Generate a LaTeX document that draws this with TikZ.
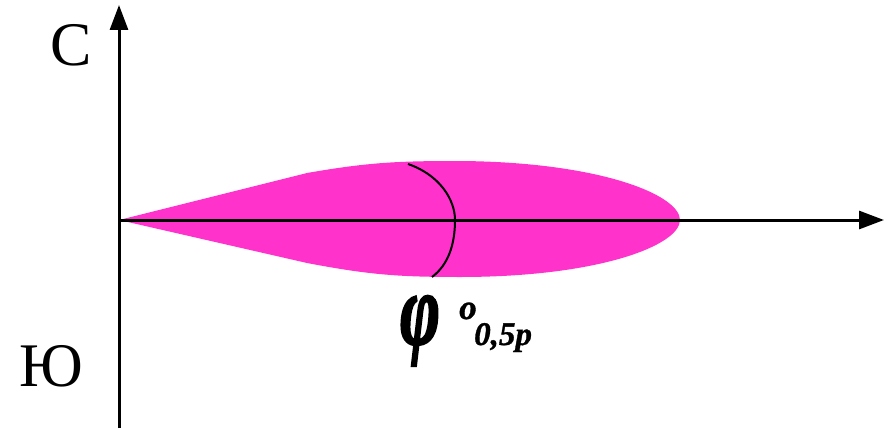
\documentclass[tikz,border=0pt]{standalone}
\usepackage{fontspec}
\setmainfont{Liberation Serif}
\newfontface\heavyphi[FakeBold=2.5]{Liberation Serif Bold Italic}
\newfontface\heavyidx[FakeBold=1]{Liberation Serif Bold Italic}
\usetikzlibrary{arrows.meta}
\definecolor{lobe}{RGB}{255,51,204}
\tikzset{
  axis/.style={line width=3pt, -{Triangle[length=25pt,width=18pt]}},
  lbl/.style={inner sep=0pt, font=\fontsize{62}{70}\selectfont},
  sym/.style={inner sep=0pt, anchor=base west}
}
\begin{document}
\begin{tikzpicture}[x=1pt,y=-1pt]
\useasboundingbox (0,0) rectangle (893,428);
\coordinate (O) at (119,220);
\coordinate (S) at (119,428);
\coordinate (Ntip) at (119,5);
\coordinate (Etip) at (884,220);
% pink lobe
\fill[lobe] (O) -- (307,173) .. controls (370,162) and (400,161) .. (460,161)
  .. controls (600,162) and (680,195) .. (680,220)
  .. controls (680,245) and (600,277) .. (460,277)
  .. controls (400,277) and (370,275) .. (307,263) -- cycle;
% axes
\draw[axis] (S) -- (Ntip);
\draw[axis] (O) -- (Etip);
% angle arc
\coordinate (a1) at (408,164);
\coordinate (a2) at (455,220);
\coordinate (a3) at (432,277);
\draw[line width=2pt] (a1) .. controls (440,175) and (455,200) .. (a2)
  .. controls (455,245) and (448,265) .. (a3);
% labels
\node[lbl] (nord) at (71,45) {С};
\node[lbl] (sud) at (51,366) {Ю};
\node[sym, font=\heavyphi\fontsize{68}{70}\selectfont] (phi) at (400,344) {\scalebox{1}[1.5]{φ}};
\node[sym, font=\heavyidx\fontsize{35}{40}\selectfont] (deg) at (459,319) {o};
\node[sym, font=\heavyidx\fontsize{33}{36}\selectfont] (sub) at (474,345) {0,5p};
\end{tikzpicture}
\end{document}
